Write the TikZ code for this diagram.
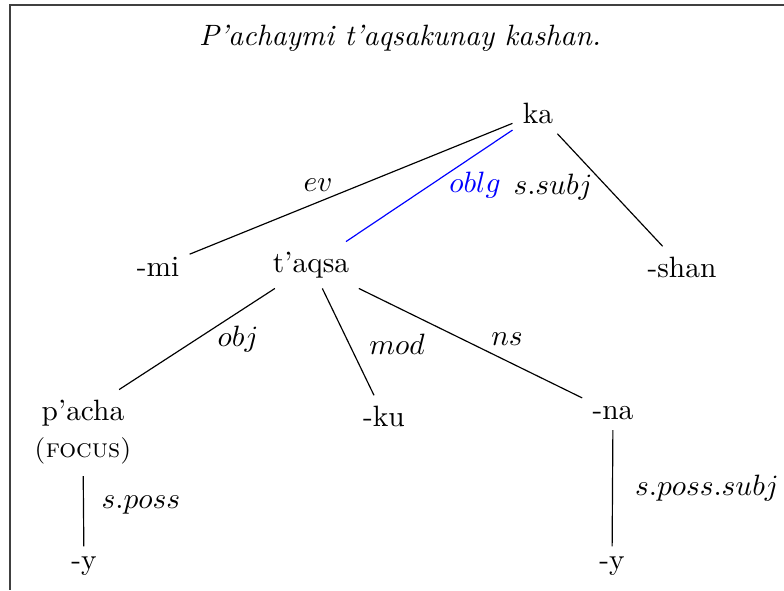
\documentclass[tikz,border=0pt]{standalone}
\begin{document}
\begin{tikzpicture}[x=0.34pt,y=-0.34pt,
  word/.style={inner sep=3.33pt},
  rel/.style={inner sep=1pt},
  link/.style={line width=0.4pt},
  framel/.style={draw=black!75, line width=0.5pt}]
\useasboundingbox (0,0) rectangle (784,590);
\coordinate (fa) at (10,5);
\coordinate (fb) at (784,5);
\coordinate (fc) at (10,590);
\draw[framel] (fb) -- (fa) -- (fc);
\node[font=\itshape] (title) at (400,38) {P'achaymi t'aqsakunay kashan.};
\node[word] (ka) at (538,113) {ka};
\node[word] (mi) at (158,267) {-mi};
\node[word] (taqsa) at (311,265) {t'aqsa};
\node[word] (shan) at (682,267) {-shan};
\node[word] (pacha) at (83,413) {p'acha};
\node[inner sep=1pt, outer sep=3pt] (focus) at (83,451) {\small\textsc{(focus)}};
\node[word] (ku) at (384,416) {-ku};
\node[word] (na) at (613,413) {-na};
\node[word] (y1) at (84,566) {-y};
\node[word] (y2) at (612,566) {-y};
\draw[link] (ka) -- (mi);
\draw[link, blue] (ka) -- (taqsa);
\draw[link] (ka) -- (shan);
\draw[link] (taqsa) -- (pacha);
\draw[link] (taqsa) -- (ku);
\draw[link] (taqsa) -- (na);
\draw[link] (focus) -- (y1);
\draw[link] (na) -- (y2);
\node[rel] (lev) at (318,185) {$ev$};
\node[rel, blue] (loblg) at (475,185) {$oblg$};
\node[rel] (lssubj) at (553,187) {$s.subj$};
\node[rel] (lobj) at (238,339) {$obj$};
\node[rel] (lmod) at (397,344) {$mod$};
\node[rel] (lns) at (507,339) {$ns$};
\node[rel] (lsposs) at (141,505) {$s.poss$};
\node[rel] (lspsubj) at (707,488) {$s.poss.subj$};
\end{tikzpicture}
\end{document}
